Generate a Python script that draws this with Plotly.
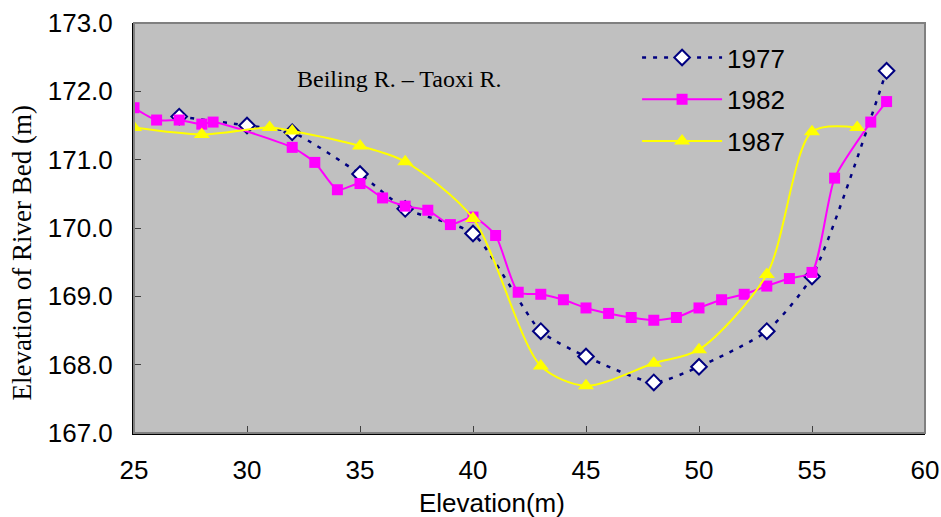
import plotly.graph_objects as go

# ---- data ----
x1977 = [27, 30, 32, 35, 37, 40, 43, 45, 48, 50, 53, 55, 58.3]
y1977 = [171.63, 171.50, 171.40, 170.79, 170.28, 169.92, 168.49, 168.12,
         167.74, 167.97, 168.49, 169.29, 172.30]

x1982 = [25, 26, 27, 28, 28.5, 32, 33, 34, 35, 36, 37, 38, 39, 40, 41, 42,
         43, 44, 45, 46, 47, 48, 49, 50, 51, 52, 53, 54, 55, 56, 57.6, 58.3]
y1982 = [171.76, 171.58, 171.58, 171.52, 171.55, 171.18, 170.96, 170.56,
         170.65, 170.44, 170.32, 170.26, 170.05, 170.16, 169.89, 169.06,
         169.03, 168.95, 168.83, 168.75, 168.69, 168.65, 168.69, 168.83,
         168.95, 169.03, 169.15, 169.26, 169.35, 170.73, 171.55, 171.85]

x1987 = [25, 28, 31, 32, 35, 37, 40, 43, 45, 48, 50, 53, 55, 57]
y1987 = [171.47, 171.37, 171.47, 171.42, 171.20, 170.97, 170.14, 167.98,
         167.69, 168.02, 168.22, 169.32, 171.41, 171.47]

x_ticks = [25, 30, 35, 40, 45, 50, 55, 60]
y_ticks = [167, 168, 169, 170, 171, 172, 173]
y_tick_labels = ["167.0", "168.0", "169.0", "170.0", "171.0", "172.0", "173.0"]

series_names = ["1977", "1982", "1987"]
chart_label = "Beiling R. \u2013 Taoxi R."
x_title = "Elevation(m)"
y_title = "Elevation of River Bed (m)"

SANS = "Liberation Sans, Arial, sans-serif"
SERIF = "Liberation Serif, Times New Roman, serif"

fig = go.Figure()
fig.add_trace(go.Scatter(
    x=x1977, y=y1977, name=series_names[0], legendgroup="a",
    mode="lines+markers", line=dict(color="#000080", width=2.5, dash="4px,7px",
                                    shape="spline", smoothing=0.6),
    marker=dict(symbol="diamond", size=12, color="white",
                line=dict(color="#000080", width=2)),
))
fig.add_trace(go.Scatter(
    x=x1982, y=y1982, name=series_names[1], legendgroup="b",
    mode="lines+markers", line=dict(color="#FF00FF", width=2,
                                    shape="spline", smoothing=0.6),
    marker=dict(symbol="square", size=11, color="#FF00FF"),
))
fig.add_trace(go.Scatter(
    x=x1987, y=y1987, name=series_names[2], legendgroup="c",
    mode="lines+markers", line=dict(color="#FFFF00", width=2,
                                    shape="spline", smoothing=0.8),
    marker=dict(symbol="triangle-up", size=14, color="#FFFF00"),
))

fig.add_annotation(x=36.73, y=172.18, xref="x", yref="y", text=chart_label,
                   showarrow=False, xanchor="center", yanchor="middle",
                   font=dict(family=SERIF, size=24, color="black"))
fig.add_annotation(x=0.452, y=-0.17, xref="paper", yref="paper", text=x_title,
                   showarrow=False, xanchor="center", yanchor="middle",
                   font=dict(family=SANS, size=26, color="black"))
fig.add_annotation(x=-0.141, y=0.439, xref="paper", yref="paper", text=y_title,
                   showarrow=False, xanchor="center", yanchor="middle",
                   textangle=-90,
                   font=dict(family=SERIF, size=27, color="black"))

# gray frame around the plot area
fig.add_shape(type="rect", xref="paper", yref="paper", x0=0, y0=0, x1=1, y1=1,
              line=dict(color="#808080", width=2), fillcolor="rgba(0,0,0,0)",
              layer="above")

fig.update_layout(
    width=941, height=517,
    margin=dict(l=134, r=16, t=23, b=84, autoexpand=False),
    paper_bgcolor="white", plot_bgcolor="#C0C0C0",
    showlegend=True,
    legend=dict(x=0.636, y=0.973, xanchor="left", yanchor="top",
                bgcolor="rgba(0,0,0,0)", font=dict(family=SANS, size=26, color="black"),
                tracegroupgap=5, itemwidth=80),
    xaxis=dict(range=[25, 60], tickvals=x_ticks, ticktext=[str(v) for v in x_ticks],
               showgrid=False, zeroline=False, showline=True, linecolor="black",
               linewidth=2, ticks="inside", ticklen=7, tickcolor="#404040",
               tickfont=dict(family=SANS, size=26, color="black"),
               ticklabelstandoff=13, automargin=False),
    yaxis=dict(range=[167, 173], tickvals=y_ticks, ticktext=y_tick_labels,
               showgrid=False, zeroline=False, showline=True, linecolor="black",
               linewidth=2, ticks="inside", ticklen=7, tickcolor="#404040",
               tickfont=dict(family=SANS, size=26, color="black"),
               ticklabelstandoff=14, automargin=False),
)

fig.write_html("out.html",
               config={"displayModeBar": False},
               post_script="document.body.style.margin='0';document.body.style.overflow='hidden';")
